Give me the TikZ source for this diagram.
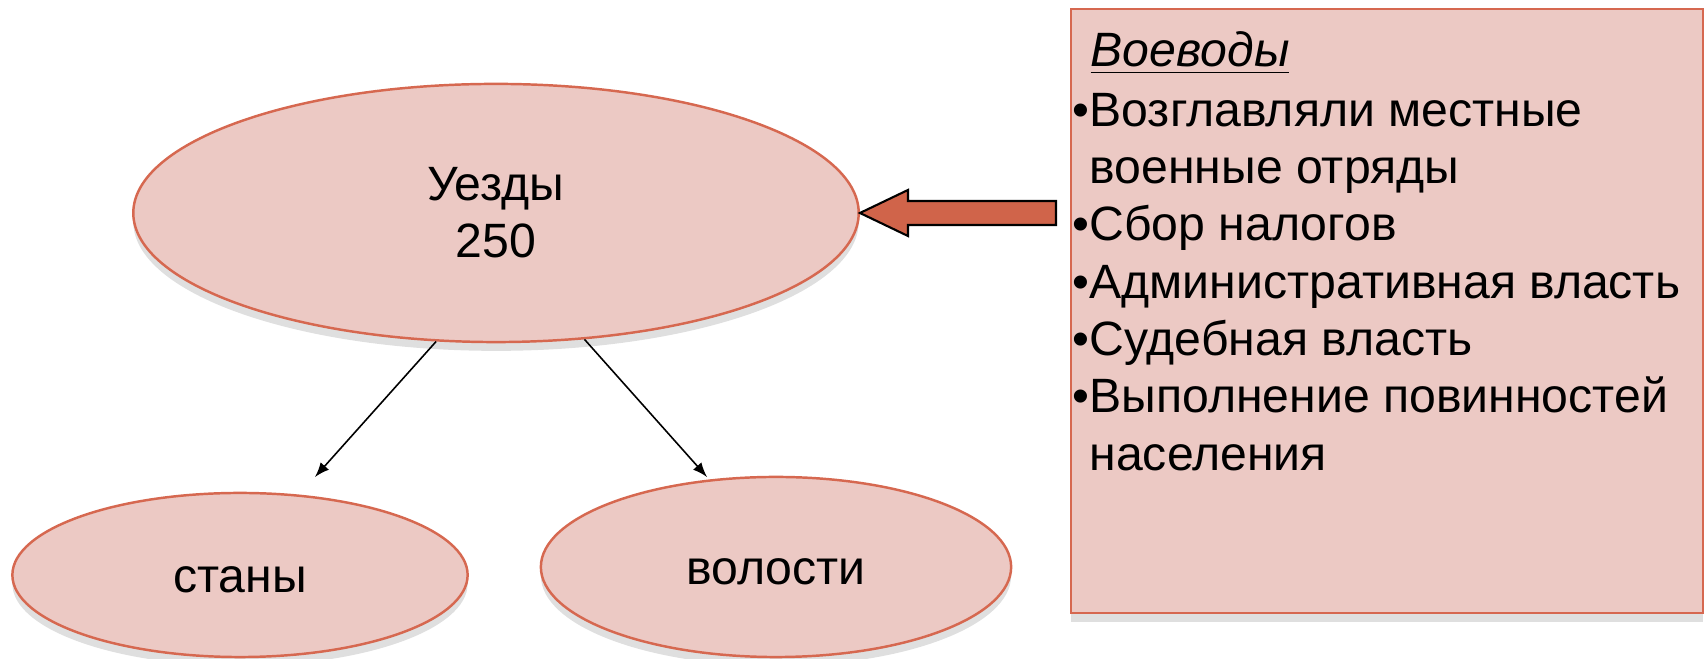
\documentclass[tikz,border=0pt]{standalone}
\usepackage{fontspec}
\setmainfont{Liberation Sans}
\usetikzlibrary{arrows,shapes}
\usetikzlibrary{shadows}
\definecolor{pinkfill}{RGB}{236,201,196}
\definecolor{rustline}{RGB}{214,104,80}
\definecolor{rustfill}{RGB}{208,100,74}
\tikzset{
    region/.style={ellipse, draw=rustline, fill=pinkfill, line width=0.7pt, inner sep=0pt,
        drop shadow={shadow xshift=0pt, shadow yshift=-2.5pt, opacity=0.25}},
    infobox/.style={rectangle, draw=rustline, fill=pinkfill, line width=0.7pt, inner sep=0pt,
        drop shadow={shadow xshift=0pt, shadow yshift=-2.5pt, opacity=0.25}},
    txt/.style={font=\fontsize{13.7pt}{16.3pt}\selectfont, text=black},
    subarrow/.style={draw=black, line width=0.45pt, ->, >=latex},
    bigarrow/.style={draw=black, fill=rustfill, line width=0.6pt, line join=miter},
}
\begin{document}
\begin{tikzpicture}[x=0.01cm, y=-0.01cm]
	\useasboundingbox (0,0) rectangle (1707,659);
	\node[region, txt, align=center, minimum width=7.25cm, minimum height=2.58cm] (uezd) at (496,213) {Уезды\\250};
	\node[region, txt, text height=0.35cm, minimum width=4.55cm, minimum height=1.64cm] (stany) at (240,575) {станы};
	\node[region, txt, text height=0.35cm, minimum width=4.7cm, minimum height=1.8cm] (volosti) at (776,567) {волости};
	% Voevody box
	\node[infobox, minimum width=6.32cm, minimum height=6.04cm] (box) at (1387,311) {};
	\node[txt, anchor=base west, inner sep=0pt] (title) at (1090,67) {\textit{\underline{Воеводы}}};
	\node[txt, anchor=north west, align=left, inner sep=0pt] (duties) at (1072,92.5)
		{•Возглавляли местные\\\phantom{•}военные отряды\\•Сбор налогов\\•Административная власть\\•Судебная власть\\•Выполнение повинностей\\\phantom{•}населения};
	% arrows
	\coordinate (stanyEnd) at (315,477);
	\coordinate (volostiEnd) at (707,477);
	\draw[subarrow] (uezd.245) -- (stanyEnd);
	\draw[subarrow] (uezd.305) -- (volostiEnd);
	\draw[bigarrow] (uezd.east) -- ++(48,-23) -- ++(0,11) -- ++(148,0) -- ++(0,24) -- ++(-148,0) -- ++(0,11) -- cycle;
\end{tikzpicture}
\end{document}
